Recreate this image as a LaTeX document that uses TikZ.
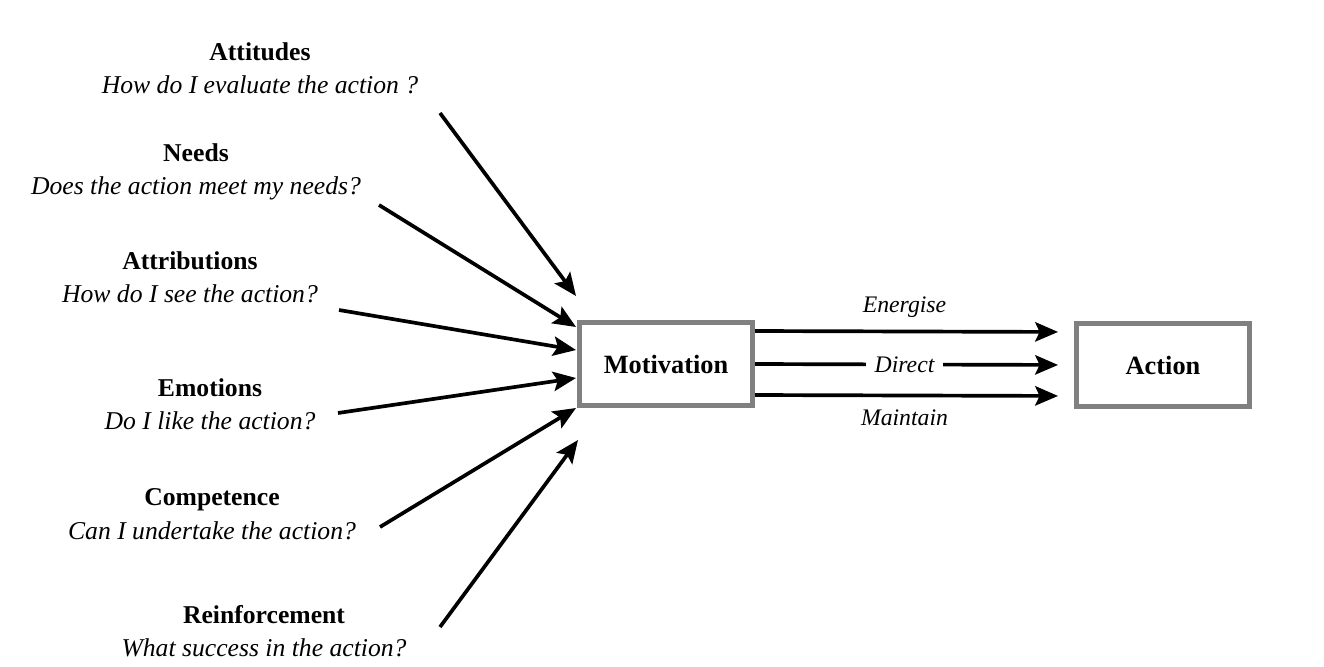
\documentclass[tikz,border=0pt]{standalone}
\usepackage{fontspec}
\setmainfont{Liberation Serif}
\usetikzlibrary{arrows.meta, positioning}
\definecolor{boxgray}{RGB}{128, 128, 128}
\newlength{\pxu}
\setlength{\pxu}{0.02cm}

\tikzset{
  factor/.style={align=center, font=\fontsize{14.6}{19}\selectfont, inner sep=0pt},
  stagebox/.style={draw=boxgray, line width=3pt, minimum width=173\pxu, minimum height=83\pxu, font=\fontsize{15}{18}\selectfont\bfseries},
  push/.style={line width=2.1pt, -{Stealth[length=13pt, width=11pt, inset=2.5pt]}},
  effect/.style={font=\fontsize{13.5}{16}\selectfont\itshape, inner sep=2pt, xshift=-10\pxu}
}

\begin{document}
\begin{tikzpicture}[x=0.02cm, y=-0.02cm]
  \useasboundingbox (0,0) rectangle (1324,666);

  % Boxes
  \node[stagebox] (mot) at (666, 364) {Motivation};
  \node[stagebox] (act) at (1163, 365) {Action};

  % Factors
  \node[factor] (att) at (260, 68) {\textbf{Attitudes}\\\textit{How do I evaluate the action ?}};
  \node[factor] (need) at (196, 172) {\textbf{Needs}\\\textit{Does the action meet my needs?}};
  \node[factor] (attr) at (190, 277) {\textbf{Attributions}\\\textit{How do I see the action?}};
  \node[factor] (emo) at (210, 404) {\textbf{Emotions}\\\textit{Do I like the action?}};
  \node[factor] (comp) at (212, 514) {\textbf{Competence}\\\textit{Can I undertake the action?}};
  \node[factor] (reinf) at (264, 631) {\textbf{Reinforcement}\\\textit{What success in the action?}};

  % Arrow ends
  \coordinate (s1) at (440, 113);
  \coordinate (s2) at (379, 205);
  \coordinate (s3) at (339, 310);
  \coordinate (s4) at (338, 413);
  \coordinate (s5) at (380, 527);
  \coordinate (s6) at (440, 627);
  \coordinate (t1) at (576, 296);
  \coordinate (t2) at (576, 327);
  \coordinate (t3) at (576, 350);
  \coordinate (t4) at (576, 378);
  \coordinate (t5) at (576, 408);
  \coordinate (t6) at (578, 440);

  \foreach \i in {1,...,6}
    \draw[push] (s\i) -- (t\i);

  % Outputs
  \draw[push, shorten >=9pt] ([yshift=33\pxu]mot.east) -- node[effect, above=5pt] {Energise} ([yshift=33\pxu]act.west);
  \draw[push, shorten >=9pt] (mot.east) -- node[effect, fill=white, inner xsep=5pt] {Direct} (act.west);
  \draw[push, shorten >=9pt] ([yshift=-31\pxu]mot.east) -- node[effect, below=5pt] {Maintain} ([yshift=-31\pxu]act.west);
\end{tikzpicture}
\end{document}
